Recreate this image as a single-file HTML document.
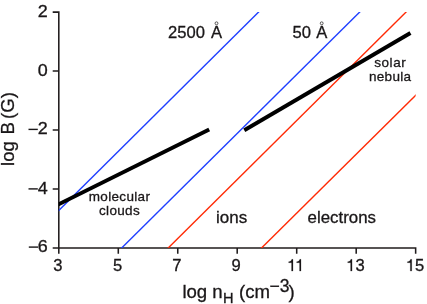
<!DOCTYPE html>
<html>
<head>
<meta charset="utf-8">
<title>log B vs log nH</title>
<style>
html,body{margin:0;padding:0;background:#fff;}
body{width:427px;height:304px;overflow:hidden;}
svg{display:block;will-change:transform;}
text{font-family:"Liberation Sans",sans-serif;fill:#1a1718;stroke:#1a1718;stroke-width:0.3px;}
.t{font-size:16.6px;}
.l{font-size:18.6px;}
.s{font-size:13.5px;letter-spacing:0.33px;}.a{font-size:17px;}
</style>
</head>
<body>
<svg width="427" height="304" viewBox="0 0 427 304">
<defs><clipPath id="c"><rect x="58.8" y="12.1" width="356.85" height="235.8"/></clipPath></defs>
<rect width="427" height="304" fill="#fff"/>
<!-- axes -->
<g stroke="#201c1d" stroke-width="1.55" fill="none">
<path d="M52.7 12.1H58.8V253.7"/>
<path d="M52.7 247.9H415.65V253.7"/>
<path d="M52.7 71.05H58.8M52.7 130H58.8M52.7 188.95H58.8"/>
<path d="M118.3 247.9V253.7M177.75 247.9V253.7M237.2 247.9V253.7M296.7 247.9V253.7M356.2 247.9V253.7"/>
</g>
<!-- data lines -->
<g clip-path="url(#c)">
<g fill="none" stroke-width="1.4">
<line x1="48.8" y1="220.27" x2="268.1" y2="2.61" stroke="#1f3fff"/>
<line x1="111.75" y1="257.81" x2="369.75" y2="2.09" stroke="#1f3fff"/>
<line x1="158.3" y1="257.81" x2="416.1" y2="2.09" stroke="#ff2a05"/>
<line x1="251.6" y1="257.81" x2="426" y2="85.09" stroke="#ff2a05"/>
</g>
<g stroke="#000" stroke-width="3.9" fill="none">
<line x1="50" y1="208.57" x2="209.2" y2="129.55"/>
<line x1="244.3" y1="130.3" x2="410.45" y2="33.05"/>
</g>
</g>
<!-- y tick labels -->
<g class="t" text-anchor="end">
<text transform="translate(47.6,17) scale(1.08,1)">2</text>
<text transform="translate(47.6,76) scale(1.08,1)">0</text>
<text transform="translate(47.6,133.7) scale(1.08,1)">2</text>
<text transform="translate(47.6,193.6) scale(1.08,1)">4</text>
<text transform="translate(47.6,251.5) scale(1.08,1)">6</text>
</g>
<g fill="#1a1718">
<rect x="28.5" y="128.7" width="9.3" height="1.4"/>
<rect x="28.5" y="188.2" width="9.3" height="1.4"/>
<rect x="28.8" y="246.4" width="9.3" height="1.4"/>
</g>
<!-- x tick labels -->
<g class="t" text-anchor="middle">
<text x="57.9" y="271.1">3</text>
<text x="117.6" y="271.1">5</text>
<text x="176.95" y="271.1">7</text>
<text x="236.2" y="271.1">9</text>
</g>
<g class="t">
<text x="355.6" y="271.1">3</text>
<text x="415" y="271.1">5</text>
</g>
<g fill="#1a1718" stroke="#1a1718" stroke-width="12" stroke-linejoin="round">
<path id="one" transform="translate(287.05,271.1) scale(0.0166,-0.0166)" d="M359 0H271V505H96V566C200 572 262 600 287 709H359Z"/>
<path transform="translate(295.05,271.1) scale(0.0166,-0.0166)" d="M359 0H271V505H96V566C200 572 262 600 287 709H359Z"/>
<path transform="translate(346.1,271.1) scale(0.0166,-0.0166)" d="M359 0H271V505H96V566C200 572 262 600 287 709H359Z"/>
<path transform="translate(405.8,271.1) scale(0.0166,-0.0166)" d="M359 0H271V505H96V566C200 572 262 600 287 709H359Z"/>
</g>
<!-- annotations -->
<text class="t" x="168.1" y="37.8">2500</text>
<text class="t" x="210.95" y="37.8">A</text>
<circle cx="216.5" cy="23.3" r="1.45" fill="none" stroke="#1a1718" stroke-width="0.7"/>
<text class="t" x="292.6" y="37.8">50</text>
<text class="t" x="316.15" y="37.8">A</text>
<circle cx="321.7" cy="23.3" r="1.45" fill="none" stroke="#1a1718" stroke-width="0.7"/>
<text class="a" x="216" y="222.7">ions</text>
<text class="a" x="307.6" y="222.7" style="font-size:16.85px">electrons</text>
<g class="s" text-anchor="middle">
<text x="390.3" y="67.1" style="letter-spacing:0.6px">solar</text>
<text x="390.2" y="81.4">nebula</text>
<text x="119.5" y="200.6">molecular</text>
<text x="119.5" y="215.1">clouds</text>
</g>
<!-- axis labels -->
<text class="l" transform="translate(14.3,165.9) rotate(-90)">log</text>
<text class="l" transform="translate(14.3,134.4) rotate(-90)">B</text>
<text class="l" transform="translate(14.3,119) rotate(-90)">(G)</text>
<text class="l" x="182.4" y="297.9">log n</text>
<text x="222.9" y="302.9" font-size="14.6">H</text>
<text class="l" x="239" y="297.9">(cm</text>
<text x="269.5" y="292.3" font-size="17.5">−3</text>
<text class="l" x="288.6" y="297.9">)</text>
</svg>
</body>
</html>
